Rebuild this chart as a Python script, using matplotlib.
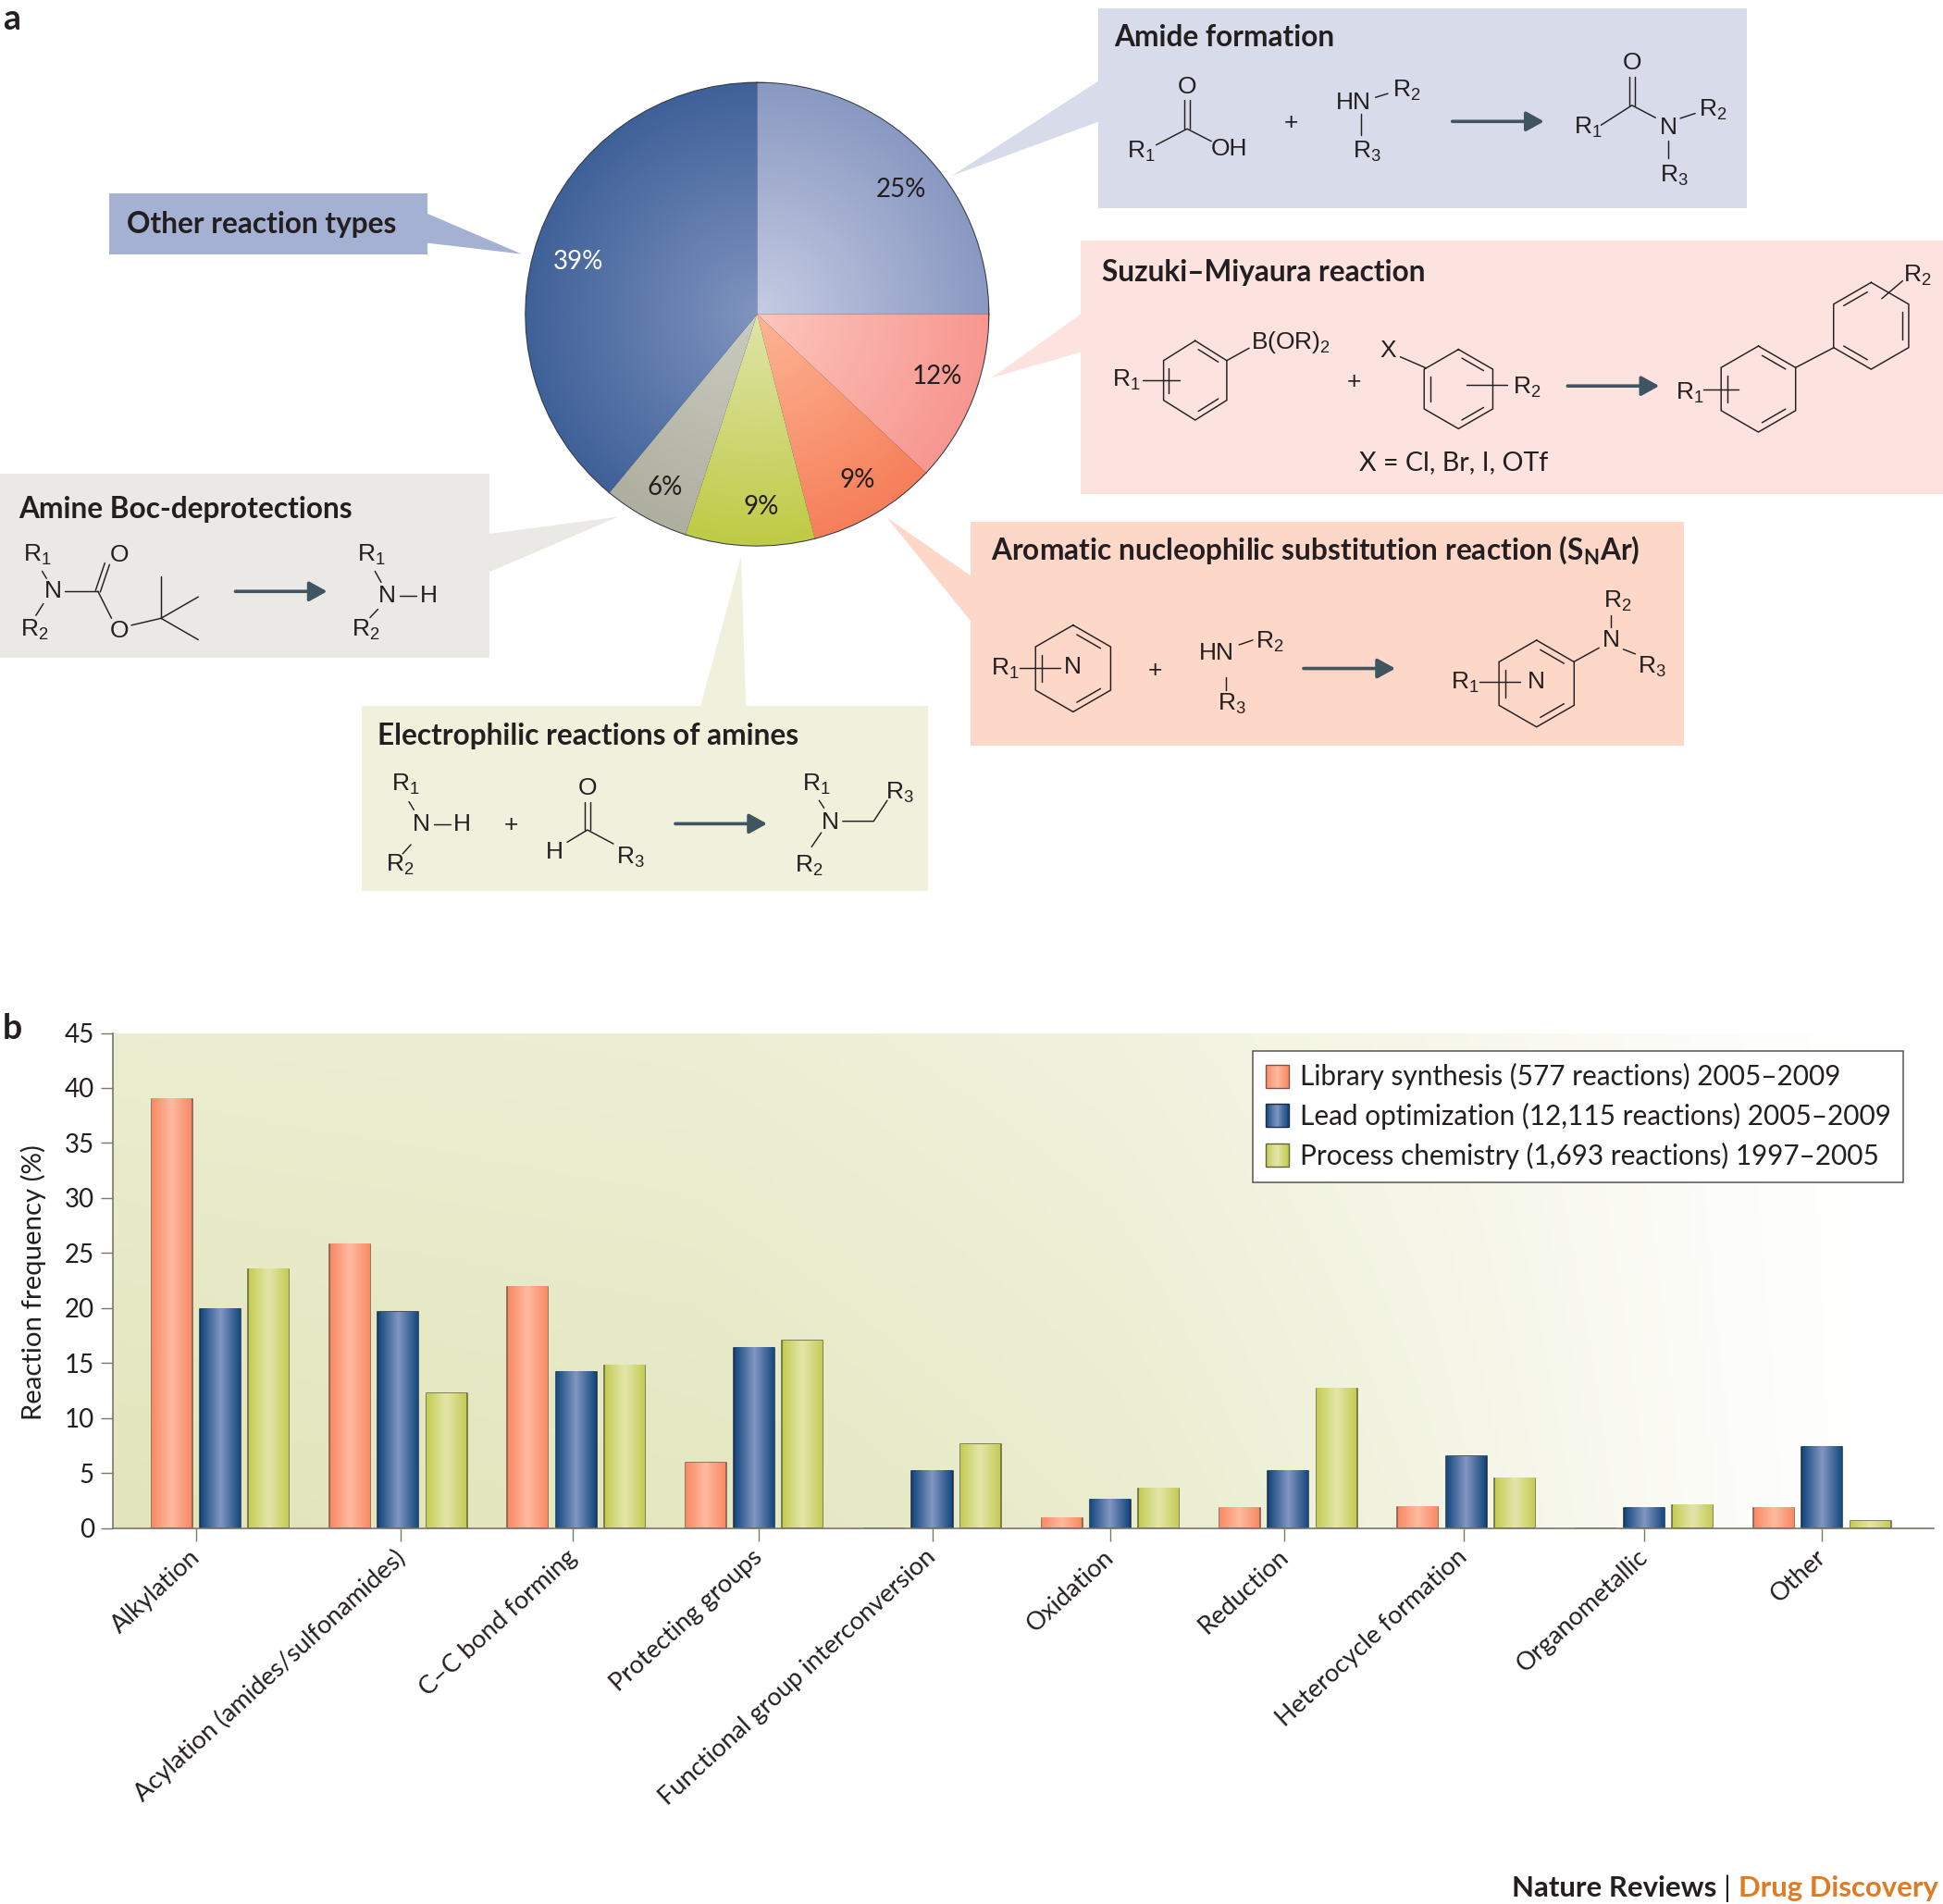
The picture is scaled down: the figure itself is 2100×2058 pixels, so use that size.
import numpy as np
import matplotlib
matplotlib.use("Agg")
import matplotlib.pyplot as plt
from matplotlib.colors import to_rgb
from matplotlib.patches import Patch, Polygon, Rectangle
from matplotlib.legend_handler import HandlerPatch
from matplotlib.transforms import ScaledTranslation

# ---------- data ----------
pie_labels = ["Amide formation", "Suzuki-Miyaura reaction", "SNAr", "Electrophilic reactions of amines",
              "Amine Boc-deprotections", "Other reaction types"]
pie_values = [25, 12, 9, 9, 6, 39]

categories = ["Alkylation", "Acylation (amides/sulfonamides)", "C\u2013C bond forming", "Protecting groups",
              "Functional group interconversion", "Oxidation", "Reduction", "Heterocycle formation",
              "Organometallic", "Other"]
library = [39, 25.8, 21.9, 5.9, 0, 0.9, 1.8, 1.9, 0, 1.8]
lead = [19.9, 19.6, 14.2, 16.4, 5.2, 2.6, 5.2, 6.5, 1.8, 7.4]
process = [23.5, 12.2, 14.8, 17, 7.6, 3.6, 12.7, 4.5, 2.1, 0.6]
series_names = ["Library synthesis (577 reactions) 2005\u20132009",
                "Lead optimization (12,115 reactions) 2005\u20132009",
                "Process chemistry (1,693 reactions) 1997\u20132005"]
tick_positions = [-0.135, 1.016, 1.98, 3.025, 4.0, 5.0, 5.98, 6.985, 8.0, 9.0]
y_ticks = [0, 5, 10, 15, 20, 25, 30, 35, 40, 45]

# ---------- style ----------
W, H = 2100, 2058
S = 2100 / 1568
plt.rcParams["font.family"] = ["Lato", "DejaVu Sans"]
plt.rcParams["mathtext.fontset"] = "custom"
plt.rcParams["mathtext.rm"] = "Liberation Sans"
plt.rcParams["mathtext.bf"] = "Lato:bold"
INK = "#231f20"
CHEM = "Liberation Sans"
ARROW = "#3f5562"

fig = plt.figure(figsize=(W / 100, H / 100), dpi=100, facecolor="white")

# overlay in reference-like coordinates (1568 wide, y down)
ov = fig.add_axes([0, 0, 1, 1], zorder=0)
ov.set_xlim(0, W / S)
ov.set_ylim(H / S, 0)
ov.axis("off")


def box(x0, y0, x1, y1, color, tail):
    ov.add_patch(Rectangle((x0, y0), x1 - x0, y1 - y0, fc=color, ec="none"))
    ov.add_patch(Polygon(tail, closed=True, fc=color, ec="none"))


def bond(*pts):
    xs = pts[0::2]
    ys = pts[1::2]
    ov.plot(xs, ys, color=INK, lw=1.05, solid_capstyle="round", solid_joinstyle="miter")


def dbl(x0, y0, x1, y1, gap=2.4):
    dx, dy = x1 - x0, y1 - y0
    n = np.hypot(dx, dy)
    ox, oy = -dy / n * gap, dx / n * gap
    bond(x0 + ox, y0 + oy, x1 + ox, y1 + oy)
    bond(x0 - ox, y0 - oy, x1 - ox, y1 - oy)


def lab(x, y, s, size=19):
    ov.text(x, y, s, family=CHEM, fontsize=size, color=INK, ha="center", va="center")


def title(x, y, s):
    ov.text(x, y, s, fontsize=22.8, fontweight="bold", color=INK, ha="left", va="center")


def arrow(x0, x1, y):
    ov.annotate("", xy=(x1, y), xytext=(x0, y),
                arrowprops=dict(arrowstyle="-|>,head_length=0.65,head_width=0.36", lw=2.6, color=ARROW,
                                shrinkA=0, shrinkB=0, mutation_scale=18))


def ring(cx, cy, r, doubles=(0, 2, 4), sx=1.0):
    ang = np.radians([90, 30, -30, -90, -150, 150])
    vx = cx + r * sx * np.cos(ang)
    vy = cy - r * np.sin(ang)
    ov.plot(np.r_[vx, vx[0]], np.r_[vy, vy[0]], color=INK, lw=1.05, solid_joinstyle="miter")
    for i in doubles:
        j = (i + 1) % 6
        ax_, ay_ = vx[i] + (cx - vx[i]) * .17, vy[i] + (cy - vy[i]) * .17
        bx_, by_ = vx[j] + (cx - vx[j]) * .17, vy[j] + (cy - vy[j]) * .17
        t0, t1 = .12, .88
        bond(ax_ + (bx_ - ax_) * t0, ay_ + (by_ - ay_) * t0, ax_ + (bx_ - ax_) * t1, ay_ + (by_ - ay_) * t1)


# panel letters / footer
ov.text(2, 16, "a", fontsize=27, fontweight="bold", color=INK, ha="left", va="center")
ov.text(2, 830, "b", fontsize=27, fontweight="bold", color=INK, ha="left", va="center")
ov.text(1385, 1524, "Nature Reviews", fontsize=22.4, fontweight="bold", color=INK, ha="right", va="center")
ov.text(1393.5, 1524, "|", fontsize=22.4, color=INK, ha="center", va="center")
ov.text(1564, 1524, "Drug Discovery", fontsize=22.4, fontweight="bold", color="#e07b24", ha="right", va="center")

# callout boxes
box(886, 7, 1410, 168, "#d8dcea", [(887, 65), (768, 142), (887, 98)])
box(872, 194, 1568, 399, "#fce3df", [(873, 253), (800, 305), (873, 284)])
box(783, 421, 1359, 602, "#fdd7c8", [(784, 465), (716, 418), (784, 502)])
box(0, 382, 395, 531, "#eae9e5", [(394, 431), (499, 417), (394, 462)])
box(292, 570, 749, 719, "#f0f1dd", [(565, 571), (598, 449), (602, 571)])
box(88, 156, 345, 205, "#a5b1d3", [(344, 172), (421, 205), (344, 196)])

title(899, 30, "Amide formation")
title(889, 220, "Suzuki\u2013Miyaura reaction")
title(800, 444, r"Aromatic nucleophilic substitution reaction (S$_{\mathbf{N}}$Ar)")
title(15, 411, "Amine Boc-deprotections")
title(305, 594, "Electrophilic reactions of amines")
title(102, 181, "Other reaction types")

# Amide formation scheme
lab(958, 70, "O"); dbl(958, 81, 958, 104); lab(921, 122, "R$_1$"); lab(992, 120, "OH")
bond(933, 117, 958, 104, 977.5, 114)
lab(1042, 99, "+")
lab(1092, 83, "HN"); lab(1135, 73, "R$_2$"); bond(1110, 78.6, 1120, 75.5); bond(1098.7, 92, 1098.7, 109); lab(1103, 122, "R$_3$")
arrow(1172, 1246, 98)
lab(1317, 51, "O"); dbl(1317, 62, 1317, 85); lab(1281.6, 103, "R$_1$"); bond(1292, 101, 1317, 85, 1336, 95)
lab(1346.6, 102.7, "N"); lab(1382, 89, "R$_2$"); bond(1356, 95.5, 1368, 91.5); bond(1346.6, 113.5, 1346.6, 128); lab(1351, 142, "R$_3$")

# Suzuki scheme
ring(964.5, 307, 32, sx=.92)
lab(1042, 276, "B(OR)$_2$"); bond(990, 291, 1008, 281); lab(909, 307, "R$_1$"); bond(922, 306.7, 951.7, 306.7)
lab(1093, 308, "+")
lab(1120.5, 283, "X"); bond(1130, 288, 1150.8, 297)
ring(1177, 314, 32)
lab(1232, 313, "R$_2$"); bond(1183.8, 310.7, 1216.4, 310.7)
arrow(1265, 1339, 311.5)
lab(1363.4, 317, "R$_1$"); bond(1374.7, 314.7, 1403, 314.7)
ring(1419, 314, 34.7)
bond(1449, 296.7, 1480, 280.5)
ring(1510, 263, 35, doubles=(1, 3, 5))
lab(1547, 222, "R$_2$"); bond(1535.4, 226.7, 1518.6, 241)
ov.text(1173, 373, "X = Cl, Br, I, OTf", fontsize=20.6, color=INK, ha="center", va="center")

# SNAr scheme
ring(866, 539.5, 35)
lab(866, 538, "N"); lab(811, 540, "R$_1$"); bond(822.5, 538.8, 856, 538.8)
lab(932, 541, "+")
lab(982, 527, "HN"); lab(1024.5, 518, "R$_2$"); bond(1000, 520.4, 1011, 516.6); bond(989.4, 546.5, 989.4, 557); lab(994, 568, "R$_3$")
arrow(1052, 1126, 539.5)
ring(1240, 551.7, 35)
lab(1240, 550, "N"); lab(1182.6, 551, "R$_1$"); bond(1194, 550.2, 1226.4, 550.2)
bond(1270.3, 534, 1290.4, 522.9); lab(1300, 516.6, "N"); lab(1305.6, 485, "R$_2$"); bond(1300, 496.7, 1300, 506)
lab(1333, 538, "R$_3$"); bond(1310, 524, 1319.7, 527.8)

# Boc scheme
lab(30, 448, "R$_1$"); bond(34, 461, 37.5, 466.8); lab(42.5, 477, "N"); bond(35, 487.2, 29, 496.7); lab(27.5, 508, "R$_2$")
bond(52.5, 477.2, 79, 477.2); lab(96, 448, "O"); dbl(79, 477.2, 86.5, 455, gap=2)
bond(79, 477.2, 90, 499); lab(96, 509, "O"); bond(106, 504.6, 130, 499)
bond(130, 465, 130, 499); bond(130, 499, 160, 481.7); bond(130, 499, 160, 516.3)
arrow(190, 264, 477.3)
lab(300, 448, "R$_1$"); bond(302.6, 461, 307.6, 470); lab(312.6, 481, "N"); bond(322.6, 481, 336, 481); lab(346, 481, "H")
lab(295, 508.5, "R$_2$"); bond(305, 491.7, 298.6, 498.4)

# Electrophilic scheme
lab(327.6, 633, "R$_1$"); bond(330, 647, 334, 653.6); lab(340, 665, "N"); bond(350, 665, 363.6, 665); lab(372.6, 665, "H")
lab(322.6, 698, "R$_2$"); bond(331.6, 681.7, 325, 689)
lab(412.6, 666, "+")
lab(474, 636, "O"); dbl(474, 647, 474, 669.8); lab(447.6, 687.6, "H"); lab(509, 692, "R$_3$")
bond(457.7, 679.7, 474, 669.8, 495, 681)
arrow(545, 619, 664.8)
lab(659, 633, "R$_1$"); bond(661, 646, 665, 652); lab(670, 663.5, "N"); lab(652.8, 699, "R$_2$"); bond(662.8, 672, 655, 683.4)
bond(680, 662.8, 705, 662.8, 716, 646); lab(726, 640, "R$_3$")

# ---------- pie ----------
R_PX = 250
cx_px, cy_px = 818.3, 339.6
ax_p = fig.add_axes([(cx_px - R_PX) / W, 1 - (cy_px + R_PX) / H, 2 * R_PX / W, 2 * R_PX / H], zorder=2)
pie_inner = ["#c6cce3", "#fcc6bd", "#fdb595", "#e0e4aa", "#cbccc1", "#8094bf"]
pie_outer = ["#8a99c2", "#f79790", "#f67f5a", "#bfcb45", "#aeaf9f", "#3f6199"]
wedges, _, autos = ax_p.pie(pie_values, startangle=90, counterclock=False, radius=1,
                            colors=pie_outer, autopct="%d%%", pctdistance=0.82,
                            wedgeprops=dict(edgecolor="#333a44", linewidth=1.5),
                            textprops=dict(fontsize=20, color=INK))
autos[-1].set_color("white")
yy, xx = np.mgrid[-1:1:400j, -1:1:400j]
rr = np.clip(np.hypot(xx, yy), 0, 1)[..., None]
for w, ci, co in zip(wedges, pie_inner, pie_outer):
    img = np.array(to_rgb(ci)) * (1 - rr) + np.array(to_rgb(co)) * rr
    im = ax_p.imshow(img, extent=(-1, 1, -1, 1), origin="lower", zorder=0.5 + w.get_zorder(), aspect="equal")
    im.set_clip_path(w)
# fine placement of the percentage labels (in pie radii)
label_nudge = [(.043, -.043), (.016, .032), (.016, -.011), (.043, -.016), (-.005, -.032), (0, -.053)]
for t, (dx, dy) in zip(autos, label_nudge):
    t.set_zorder(5)
    px, py = t.get_position()
    t.set_position((px + dx, py + dy))
ax_p.set_xlim(-1, 1)
ax_p.set_ylim(-1, 1)
ax_p.axis("off")

# ---------- bars ----------
L, Rt, T, B = 122, 2090, 1116.5, 1651.5
ax = fig.add_axes([L / W, 1 - B / H, (Rt - L) / W, (B - T) / H], zorder=1)
xlim = (-0.603, 9.627)
ax.set_xlim(*xlim)
ax.set_ylim(0, 45)
ax.set_autoscale_on(False)

# background wash
gx = np.linspace(0, 1, 500)
gy = np.linspace(0, 1, 120)
fade = np.interp(gx, [0, .32, .55, .72, .88, .97], [1, .92, .72, .45, .12, 0])
base_low = np.array(to_rgb("#e2e5bb"))
base_top = np.array(to_rgb("#ebedd0"))
bgimg = np.ones((120, 500, 3))
for i, v in enumerate(gy):
    c = base_low * (1 - v) + base_top * v
    bgimg[i] = 1 - (1 - c)[None, :] * fade[:, None]
ax.imshow(bgimg, extent=(*xlim, 0, 45), origin="lower", aspect="auto", zorder=0)

bar_w, offs = 0.229, 0.272
grads = [("#f98a66", "#fdba9f", "#7d5648"), ("#15497f", "#8396c2", "#1c2b40"), ("#c5cc55", "#e4e6ab", "#62633a")]
X = np.arange(len(categories))


def strip(edge, mid, n=64):
    t = 1 - np.abs(np.linspace(-1, 1, n))[:, None]
    return (np.array(to_rgb(edge)) * (1 - t) + np.array(to_rgb(mid)) * t)[None, ...]


for k, (vals, (e, m, ec)) in enumerate(zip([library, lead, process], grads)):
    rects = ax.bar(X + (k - 1) * offs, vals, bar_w, color=e, edgecolor=ec, linewidth=1.1, zorder=2, label=series_names[k])
    for r in rects:
        if r.get_height() > 0:
            ax.imshow(strip(e, m), extent=(r.get_x() + .003, r.get_x() + r.get_width() - .003, 0, r.get_height() - .03),
                      origin="lower", aspect="auto", zorder=2.5)
ax.set_xlim(*xlim)
ax.set_ylim(0, 45)

for s in ("top", "right"):
    ax.spines[s].set_visible(False)
for s in ("left", "bottom"):
    ax.spines[s].set_color("#77776a")
    ax.spines[s].set_linewidth(1.2)
    ax.spines[s].set_zorder(4)
ax.set_yticks(y_ticks)
ax.tick_params(axis="y", length=9.5, width=1, color="#77776a", labelsize=20, labelcolor=INK, pad=5)
ax.set_xticks(tick_positions)
ax.set_xticklabels(categories, rotation=42.6, ha="right", va="top", rotation_mode="anchor", fontsize=19.6, color=INK)
ax.tick_params(axis="x", length=10, width=1, color="#77776a", pad=10)
shift = ScaledTranslation(-8 / 100, 9 / 100, fig.dpi_scale_trans)
for lb in ax.get_xticklabels():
    lb.set_transform(lb.get_transform() + shift)
ax.set_ylabel("Reaction frequency (%)", fontsize=21.2, color=INK, labelpad=0)
ax.yaxis.set_label_coords((37 * S - L) / (Rt - L), (B - 1035 * S) / (B - T))


class GradHandler(HandlerPatch):
    def create_artists(self, legend, orig, xd, yd, w, h, fs, trans):
        e, m, ec = orig.grad
        arts = []
        n = 16
        hh = 18
        y0 = -yd + (h - hh) / 2
        t = 1 - np.abs(np.linspace(-1, 1, n))
        for i in range(n):
            c = np.array(to_rgb(e)) * (1 - t[i]) + np.array(to_rgb(m)) * t[i]
            arts.append(Rectangle((-xd + i * w / n, y0), w / n + .3, hh, fc=c, ec="none", transform=trans))
        arts.append(Rectangle((-xd, y0), w, hh, fill=False, ec=ec, lw=1, transform=trans))
        return arts


handles = []
for name, g in zip(series_names, grads):
    p = Patch(facecolor=g[0], edgecolor=g[2], label=name)
    p.grad = g
    handles.append(p)
leg = ax.legend(handles=handles, loc="upper left",
                bbox_to_anchor=((1011 * S - L) / (Rt - L), (B - 848 * S) / (B - T)),
                fontsize=21.4, frameon=True, fancybox=False, framealpha=1, facecolor="white",
                edgecolor="#55554f", borderaxespad=0, borderpad=0.46, labelspacing=0.46,
                handlelength=0.84, handletextpad=0.4,
                handler_map={Patch: GradHandler()})
leg.get_frame().set_linewidth(1.1)
leg.set_zorder(6)
for t in leg.get_texts():
    t.set_color(INK)

fig.savefig("out.png", dpi=100, facecolor="white")
